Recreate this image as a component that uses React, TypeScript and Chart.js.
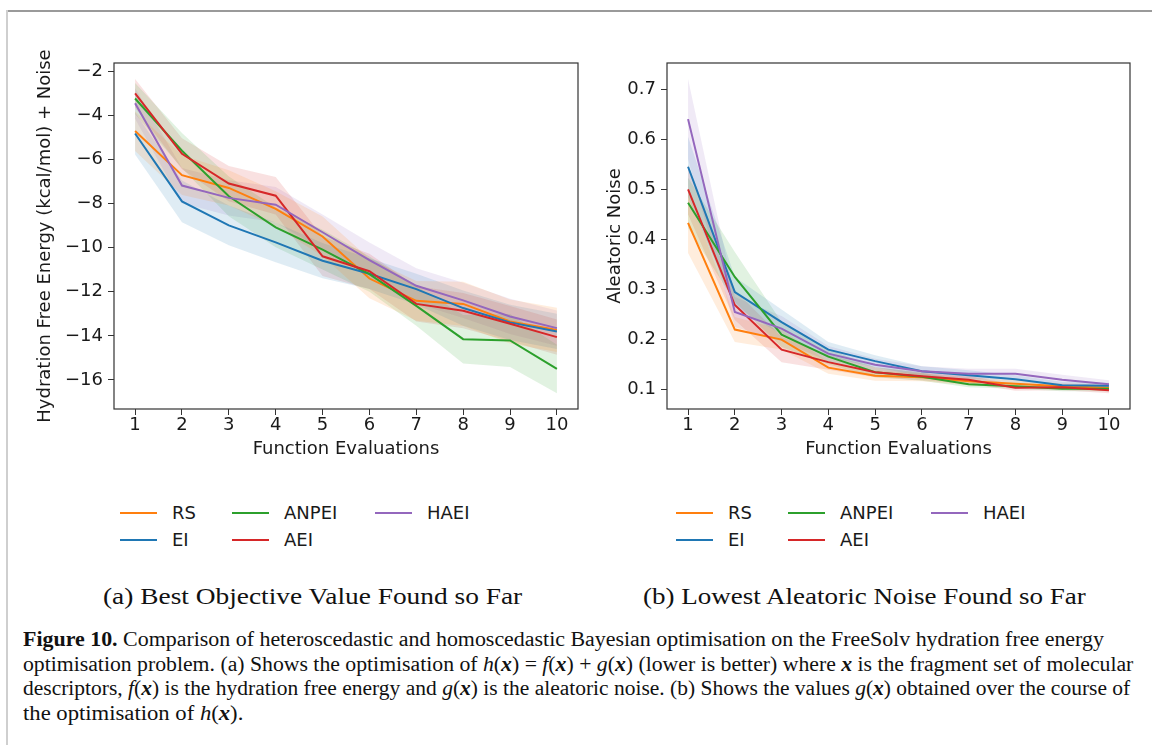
import React, { useEffect, useLayoutEffect, useRef, useState } from 'react';
import { Chart, registerables } from 'chart.js';

Chart.register(...registerables);

// ---------------- data ----------------
const evaluations = [1, 2, 3, 4, 5, 6, 7, 8, 9, 10];
const seriesNames = ['RS', 'EI', 'ANPEI', 'AEI', 'HAEI'];
const seriesColors = ['#ff7f0e', '#1f77b4', '#2ca02c', '#d62728', '#9467bd'];

// (a) Hydration free energy + noise (mean)
const energyRS = [-4.71, -6.71, -7.29, -8.24, -9.49, -11.4, -12.41, -12.55, -13.35, -13.73];
const energyEI = [-4.82, -7.9, -8.99, -9.76, -10.59, -11.18, -11.88, -12.74, -13.39, -13.8];
const energyANPEI = [-3.23, -5.6, -7.67, -9.08, -10.09, -11.2, -12.64, -14.15, -14.21, -15.5];
const energyAEI = [-3.0, -5.74, -7.09, -7.64, -10.39, -11.07, -12.55, -12.86, -13.45, -14.06];
const energyHAEI = [-3.45, -7.18, -7.74, -8.05, -9.3, -10.56, -11.73, -12.39, -13.12, -13.65];

// (a) half-width of shaded band
const energySpreadRS = [0.9, 0.9, 0.8, 0.8, 0.9, 0.9, 0.9, 1.0, 1.0, 1.0];
const energySpreadEI = [0.95, 0.95, 0.9, 0.9, 0.8, 0.7, 0.7, 0.8, 0.8, 0.8];
const energySpreadANPEI = [0.7, 0.8, 0.9, 0.9, 0.9, 0.8, 0.9, 1.1, 1.2, 1.1];
const energySpreadAEI = [0.65, 0.7, 0.8, 0.85, 0.9, 0.8, 0.8, 0.8, 0.8, 0.8];
const energySpreadHAEI = [0.7, 0.8, 0.8, 0.8, 0.8, 0.8, 0.8, 0.8, 0.8, 0.8];

// (b) Aleatoric noise (mean)
const noiseRS = [0.433, 0.22, 0.2, 0.144, 0.128, 0.125, 0.117, 0.112, 0.107, 0.104];
const noiseEI = [0.545, 0.295, 0.235, 0.18, 0.157, 0.137, 0.129, 0.121, 0.109, 0.108];
const noiseANPEI = [0.473, 0.325, 0.21, 0.166, 0.135, 0.126, 0.111, 0.107, 0.102, 0.102];
const noiseAEI = [0.5, 0.269, 0.18, 0.155, 0.135, 0.127, 0.12, 0.104, 0.105, 0.099];
const noiseHAEI = [0.64, 0.255, 0.222, 0.172, 0.15, 0.137, 0.132, 0.132, 0.12, 0.111];

// (b) half-width of shaded band
const noiseSpreadRS = [0.06, 0.025, 0.02, 0.012, 0.01, 0.008, 0.008, 0.007, 0.006, 0.006];
const noiseSpreadEI = [0.06, 0.03, 0.025, 0.015, 0.012, 0.01, 0.01, 0.008, 0.007, 0.006];
const noiseSpreadANPEI = [0.05, 0.05, 0.025, 0.015, 0.01, 0.008, 0.006, 0.005, 0.005, 0.005];
const noiseSpreadAEI = [0.05, 0.03, 0.025, 0.015, 0.01, 0.008, 0.008, 0.006, 0.006, 0.006];
const noiseSpreadHAEI = [0.08, 0.03, 0.025, 0.015, 0.012, 0.01, 0.01, 0.01, 0.01, 0.008];

const energyTicks = [-16, -14, -12, -10, -8, -6, -4, -2];
const noiseTicks = [0.1, 0.2, 0.3, 0.4, 0.5, 0.6, 0.7];
const xTicks = [1, 2, 3, 4, 5, 6, 7, 8, 9, 10];

const energyMeans = [energyRS, energyEI, energyANPEI, energyAEI, energyHAEI];
const energySpreads = [energySpreadRS, energySpreadEI, energySpreadANPEI, energySpreadAEI, energySpreadHAEI];
const noiseMeans = [noiseRS, noiseEI, noiseANPEI, noiseAEI, noiseHAEI];
const noiseSpreads = [noiseSpreadRS, noiseSpreadEI, noiseSpreadANPEI, noiseSpreadAEI, noiseSpreadHAEI];

// ---------------- helpers ----------------
const FONT = "'DejaVu Sans', sans-serif";
const TEXT = '#1a1a1a';
const TICK_SIZE = 18;
const TITLE_SIZE = 18;

function hexAlpha(hex: string, a: number) {
  const r = parseInt(hex.slice(1, 3), 16);
  const g = parseInt(hex.slice(3, 5), 16);
  const b = parseInt(hex.slice(5, 7), 16);
  return `rgba(${r},${g},${b},${a})`;
}

function buildDatasets(means: number[][], spreads: number[][]) {
  const ds: any[] = [];
  means.forEach((m, i) => {
    const c = seriesColors[i];
    ds.push({
      label: seriesNames[i] + ' upper',
      data: evaluations.map((x, j) => ({ x, y: m[j] + spreads[i][j] })),
      borderColor: 'transparent',
      borderWidth: 0,
      pointRadius: 0,
      backgroundColor: hexAlpha(c, 0.14),
      fill: '+1',
      order: 20,
    });
    ds.push({
      label: seriesNames[i] + ' lower',
      data: evaluations.map((x, j) => ({ x, y: m[j] - spreads[i][j] })),
      borderColor: 'transparent',
      borderWidth: 0,
      pointRadius: 0,
      fill: false,
      order: 20,
    });
  });
  means.forEach((m, i) => {
    ds.push({
      label: seriesNames[i],
      data: evaluations.map((x, j) => ({ x, y: m[j] })),
      borderColor: seriesColors[i],
      borderWidth: 2,
      pointRadius: 0,
      fill: false,
      tension: 0,
      order: 10 - i,
    });
  });
  return ds;
}

const framePlugin = {
  id: 'frameBox',
  afterDatasetsDraw(chart: any) {
    const { ctx, chartArea } = chart;
    const { left, top, right, bottom } = chartArea;
    ctx.save();
    ctx.strokeStyle = '#333';
    ctx.lineWidth = 1.2;
    ctx.strokeRect(left, top, right - left, bottom - top);
    ctx.restore();
  },
};

function makeConfig(opts: {
  means: number[][];
  spreads: number[][];
  yMin: number;
  yMax: number;
  yTicks: number[];
  yTitle: string;
  yWidth: number;
  yTitlePad: number;
  fmt: (v: number) => string;
  padTop: number;
  padRight: number;
  xHeight: number;
}) {
  return {
    type: 'line',
    data: { datasets: buildDatasets(opts.means, opts.spreads) },
    plugins: [framePlugin],
    options: {
      responsive: false,
      animation: false,
      devicePixelRatio: 1,
      layout: { padding: { top: opts.padTop, right: opts.padRight, left: 0, bottom: 0 } },
      plugins: { legend: { display: false }, tooltip: { enabled: false } },
      elements: { line: { tension: 0 } },
      scales: {
        x: {
          type: 'linear',
          min: 0.55,
          max: 10.45,
          afterBuildTicks: (s: any) => {
            s.ticks = xTicks.map((v) => ({ value: v }));
          },
          afterFit: (s: any) => {
            s.height = opts.xHeight;
          },
          border: { display: false },
          grid: { drawOnChartArea: false, drawTicks: true, tickLength: 6, color: '#333', lineWidth: 1 },
          ticks: { color: TEXT, font: { family: FONT, size: TICK_SIZE }, padding: 0, maxRotation: 0, callback: (v: any) => String(v) },
          title: { display: true, text: 'Function Evaluations', color: TEXT, font: { family: FONT, size: TITLE_SIZE }, padding: { top: 0, bottom: 20 } },
        },
        y: {
          type: 'linear',
          min: opts.yMin,
          max: opts.yMax,
          afterBuildTicks: (s: any) => {
            s.ticks = opts.yTicks.map((v) => ({ value: v }));
          },
          afterFit: (s: any) => {
            s.width = opts.yWidth;
          },
          border: { display: false },
          grid: { drawOnChartArea: false, drawTicks: true, tickLength: 6, color: '#333', lineWidth: 1 },
          ticks: { color: TEXT, font: { family: FONT, size: TICK_SIZE }, padding: 5, callback: (v: any) => opts.fmt(Number(v)) },
          title: { display: true, text: opts.yTitle, color: TEXT, font: { family: FONT, size: TITLE_SIZE }, padding: { top: opts.yTitlePad, bottom: 0 } },
        },
      },
    },
  } as any;
}

function ChartBox({ config, left, top, width, height }: any) {
  const ref = useRef<HTMLCanvasElement>(null);
  useEffect(() => {
    const chart = new Chart(ref.current as HTMLCanvasElement, config);
    return () => chart.destroy();
  }, []);
  return (
    <div style={{ position: 'absolute', left, top, width, height }}>
      <canvas ref={ref} width={width} height={height} style={{ display: 'block' }} />
    </div>
  );
}

function FitText({ left, top, width, style, children }: any) {
  const ref = useRef<HTMLSpanElement>(null);
  const [scale, setScale] = useState(1);
  useLayoutEffect(() => {
    if (ref.current) {
      const w = ref.current.offsetWidth;
      if (w > 0) setScale(width / w);
    }
  }, []);
  return (
    <div style={{ position: 'absolute', left, top, whiteSpace: 'nowrap', ...style }}>
      <span ref={ref} style={{ display: 'inline-block', transform: `scaleX(${scale})`, transformOrigin: 'left center' }}>
        {children}
      </span>
    </div>
  );
}

function Legend({ left, top }: { left: number; top: number }) {
  // column-major: col1 RS, EI; col2 ANPEI, AEI; col3 HAEI
  const colX = [0, 112, 255];
  const rowY = [0, 27];
  return (
    <>
      {seriesNames.map((name, i) => {
        const col = Math.floor(i / 2);
        const row = i % 2;
        const x = left + colX[col];
        const y = top + rowY[row];
        return (
          <React.Fragment key={name}>
            <div style={{ position: 'absolute', left: x, top: y - 1, width: 37, height: 2, background: seriesColors[i] }} />
            <div
              style={{
                position: 'absolute',
                left: x + 52,
                top: y - 11,
                font: `18px ${FONT}`,
                lineHeight: '22px',
                color: TEXT,
              }}
            >
              {name}
            </div>
          </React.Fragment>
        );
      })}
    </>
  );
}

const minusFmt = (v: number) => String(v).replace('-', '\u2212');
const oneDecimal = (v: number) => v.toFixed(1);

const X = ({ children }: any) => (
  <b>
    <i>{children}</i>
  </b>
);

export default function App() {
  const leftCfg = makeConfig({
    means: energyMeans,
    spreads: energySpreads,
    yMin: -17.32,
    yMax: -1.62,
    yTicks: energyTicks,
    yTitle: 'Hydration Free Energy (kcal/mol) + Noise',
    yWidth: 94,
    yTitlePad: 15,
    fmt: minusFmt,
    padTop: 23,
    padRight: 22,
    xHeight: 71,
  });
  const rightCfg = makeConfig({
    means: noiseMeans,
    spreads: noiseSpreads,
    yMin: 0.0615,
    yMax: 0.752,
    yTicks: noiseTicks,
    yTitle: 'Aleatoric Noise',
    yWidth: 92,
    yTitlePad: 30,
    fmt: oneDecimal,
    padTop: 23,
    padRight: 22,
    xHeight: 71,
  });

  const serif = "'Liberation Serif', 'DejaVu Serif', serif";
  const capStyle = { font: `20.5px ${serif}`, lineHeight: '24.5px', color: '#111' };

  return (
    <div style={{ position: 'fixed', left: 0, top: 0, width: 1152, height: 745, background: '#fff', overflow: 'hidden' }}>
      {/* frame */}
      <div style={{ position: 'absolute', left: 6, top: 10, width: 1146, height: 1.5, background: '#9a9a9a' }} />
      <div style={{ position: 'absolute', left: 6, top: 10, width: 2, height: 735, background: '#cfcfcf' }} />

      <ChartBox config={leftCfg} left={20} top={40} width={580} height={440} />
      <ChartBox config={rightCfg} left={575} top={40} width={577} height={440} />

      <Legend left={120} top={513} />
      <Legend left={676} top={513} />

      <FitText left={103} top={584} width={419} style={{ font: `23px ${serif}`, lineHeight: '26px', color: '#111' }}>
        (a) Best Objective Value Found so Far
      </FitText>
      <FitText left={643} top={584} width={443} style={{ font: `23px ${serif}`, lineHeight: '26px', color: '#111' }}>
        (b) Lowest Aleatoric Noise Found so Far
      </FitText>

      <FitText left={23} top={627} width={1081} style={capStyle}>
        <b>Figure 10.</b> Comparison of heteroscedastic and homoscedastic Bayesian optimisation on the FreeSolv hydration free energy
      </FitText>
      <FitText left={23} top={651.5} width={1110} style={capStyle}>
        optimisation problem. (a) Shows the optimisation of <i>h</i>(<X>x</X>) = <i>f</i>(<X>x</X>) + <i>g</i>(<X>x</X>) (lower is better) where <X>x</X> is the fragment set of molecular
      </FitText>
      <FitText left={23} top={676} width={1107} style={capStyle}>
        descriptors, <i>f</i>(<X>x</X>) is the hydration free energy and <i>g</i>(<X>x</X>) is the aleatoric noise. (b) Shows the values <i>g</i>(<X>x</X>) obtained over the course of
      </FitText>
      <FitText left={23} top={700.5} width={220} style={capStyle}>
        the optimisation of <i>h</i>(<X>x</X>).
      </FitText>
    </div>
  );
}
